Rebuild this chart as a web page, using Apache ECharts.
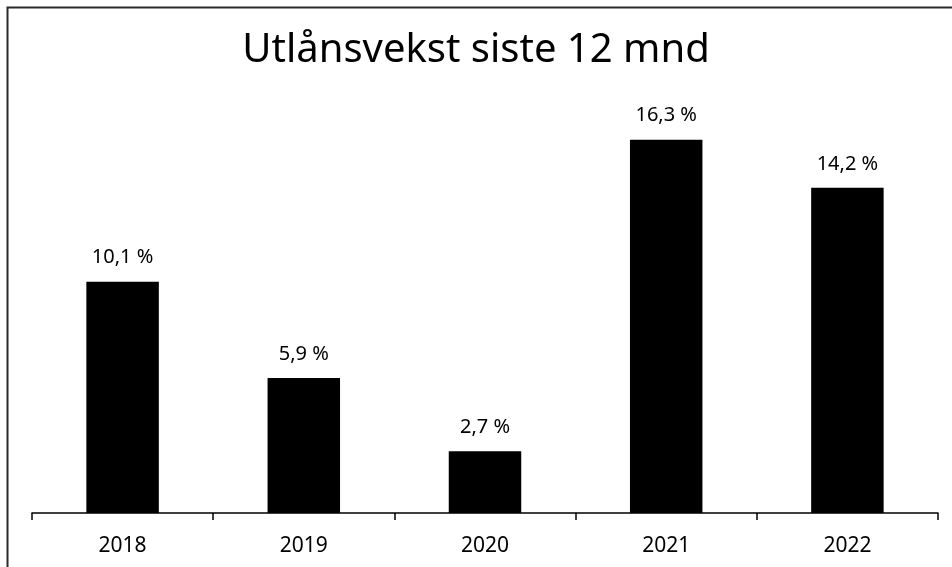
<!DOCTYPE html>
<html>
<head>
<meta charset="utf-8">
<script src="https://cdn.jsdelivr.net/npm/echarts@6/dist/echarts.min.js"></script>
<style>
html,body{margin:0;padding:0;background:#fff;}
#chart{width:952px;height:567px;}
</style>
</head>
<body>
<div id="chart"></div>
<script>
const titleText = 'Utlånsvekst siste 12 mnd';
const categories = ['2018', '2019', '2020', '2021', '2022'];
const values = [10.1, 5.9, 2.7, 16.3, 14.2];

const chart = echarts.init(document.getElementById('chart'), null, {renderer: 'canvas'});
chart.setOption({
  animation: false,
  backgroundColor: '#fff',
  title: {
    text: titleText,
    left: 'center',
    top: 26,
    textStyle: {fontFamily: 'Noto Sans', fontSize: 40, fontWeight: 'normal', color: '#000'}
  },
  graphic: [{
    type: 'rect',
    shape: {x: 7.5, y: 7.5, width: 1000, height: 1000},
    style: {fill: 'none', stroke: '#2b2b2b', lineWidth: 2},
    silent: true
  }],
  grid: {left: 32, right: 14, top: 55, bottom: 54},
  xAxis: {
    type: 'category',
    data: categories,
    axisLine: {lineStyle: {color: '#000', width: 1.5}},
    axisTick: {show: true, length: 7, lineStyle: {color: '#000', width: 1.5}},
    axisLabel: {fontFamily: 'Noto Sans', fontSize: 21, color: '#000', margin: 23}
  },
  yAxis: {
    type: 'value',
    min: 0,
    max: 20,
    show: false,
    splitLine: {show: false}
  },
  series: [{
    type: 'bar',
    data: values,
    barWidth: '40%',
    itemStyle: {color: '#000'},
    label: {
      show: true,
      position: 'top',
      distance: 14,
      fontFamily: 'Noto Sans',
      fontSize: 20,
      color: '#000',
      formatter: p => p.value.toFixed(1).replace('.', ',') + ' %'
    }
  }]
});
</script>
</body>
</html>
